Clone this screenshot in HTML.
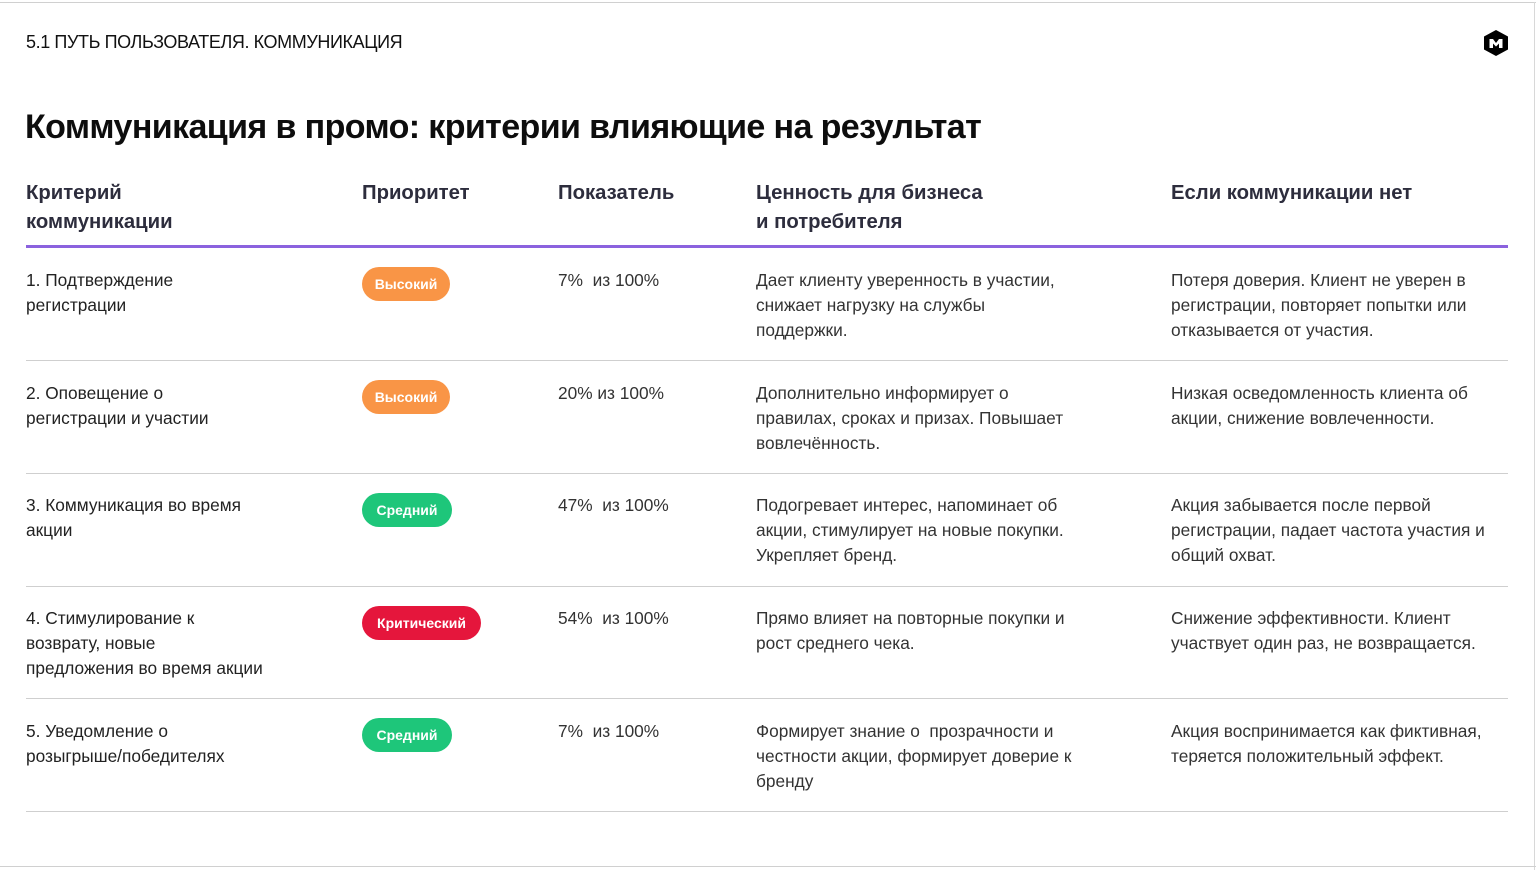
<!DOCTYPE html>
<html><head><meta charset="utf-8"><style>
body{margin:0;width:1536px;height:870px;background:#fff;position:relative;overflow:hidden;font-family:"Liberation Sans","DejaVu Sans",sans-serif;color:#2f2f3a}
.a{position:absolute}
.top{left:0;top:2px;width:1536px;height:1px;background:#d0d0d0}
.rb{left:1534px;top:2px;width:1px;height:868px;background:#d8d8d8}
.bot{left:0;top:866px;width:1536px;height:1px;background:#d0d0d0}
.sec{left:26px;top:32px;font-size:18px;letter-spacing:-0.4px;color:#111}
h1{position:absolute;left:25px;top:108px;margin:0;font-size:34px;font-weight:bold;letter-spacing:-0.6px;color:#0d0d0d}
.h{font-size:20.3px;font-weight:bold;line-height:29px;color:#2d2d3d;top:179px}
.pl{left:26px;top:245px;width:1482px;height:3px;background:#8b62de}
.ln{left:26px;width:1482px;height:1px;background:#cfcfcf}
.t{font-size:17.3px;line-height:25px;color:#333}
.c1{color:#222}
.b{height:34px;line-height:34px;border-radius:17px;color:#fff;font-weight:bold;font-size:14px;text-align:center}
.o{background:#f99546;width:88px}.g{background:#1ec67a;width:90px}.r{background:#e5163c;width:119px}
</style></head><body>
<div class="a top"></div><div class="a rb"></div><div class="a bot"></div>
<div class="a sec">5.1 ПУТЬ ПОЛЬЗОВАТЕЛЯ. КОММУНИКАЦИЯ</div>
<svg class="a" style="left:1482px;top:29px" width="28" height="28" viewBox="0 0 28 28"><polygon points="14,1 26,7.5 26,20.5 14,27 2,20.5 2,7.5" fill="#000"/><path d="M7.5 19V10h3.5l3 4 3-4h3.5v9h-3.5v-4.5l-3 3-3-3V19z" fill="#fff"/></svg>
<h1>Коммуникация в промо: критерии влияющие на результат</h1>
<div class="a h" style="left:26px">Критерий<br>коммуникации</div>
<div class="a h" style="left:362px">Приоритет</div>
<div class="a h" style="left:558px">Показатель</div>
<div class="a h" style="left:756px">Ценность для бизнеса<br>и потребителя</div>
<div class="a h" style="left:1171px">Если коммуникации нет</div>
<div class="a pl"></div>

<div class="a t c1" style="left:26px;top:268px">1. Подтверждение<br>регистрации</div>
<div class="a b o" style="left:362px;top:267px">Высокий</div>
<div class="a t" style="left:558px;top:268px">7%&nbsp; из 100%</div>
<div class="a t" style="left:756px;top:268px">Дает клиенту уверенность в участии,<br>снижает нагрузку на службы<br>поддержки.</div>
<div class="a t" style="left:1171px;top:268px">Потеря доверия. Клиент не уверен в<br>регистрации, повторяет попытки или<br>отказывается от участия.</div>
<div class="a ln" style="top:360px"></div>

<div class="a t c1" style="left:26px;top:381px">2. Оповещение о<br>регистрации и участии</div>
<div class="a b o" style="left:362px;top:380px">Высокий</div>
<div class="a t" style="left:558px;top:381px">20% из 100%</div>
<div class="a t" style="left:756px;top:381px">Дополнительно информирует о<br>правилах, сроках и призах. Повышает<br>вовлечённость.</div>
<div class="a t" style="left:1171px;top:381px">Низкая осведомленность клиента об<br>акции, снижение вовлеченности.</div>
<div class="a ln" style="top:473px"></div>

<div class="a t c1" style="left:26px;top:493px">3. Коммуникация во время<br>акции</div>
<div class="a b g" style="left:362px;top:493px">Средний</div>
<div class="a t" style="left:558px;top:493px">47%&nbsp; из 100%</div>
<div class="a t" style="left:756px;top:493px">Подогревает интерес, напоминает об<br>акции, стимулирует на новые покупки.<br>Укрепляет бренд.</div>
<div class="a t" style="left:1171px;top:493px">Акция забывается после первой<br>регистрации, падает частота участия и<br>общий охват.</div>
<div class="a ln" style="top:586px"></div>

<div class="a t c1" style="left:26px;top:606px">4. Стимулирование к<br>возврату, новые<br>предложения во время акции</div>
<div class="a b r" style="left:362px;top:606px">Критический</div>
<div class="a t" style="left:558px;top:606px">54%&nbsp; из 100%</div>
<div class="a t" style="left:756px;top:606px">Прямо влияет на повторные покупки и<br>рост среднего чека.</div>
<div class="a t" style="left:1171px;top:606px">Снижение эффективности. Клиент<br>участвует один раз, не возвращается.</div>
<div class="a ln" style="top:698px"></div>

<div class="a t c1" style="left:26px;top:719px">5. Уведомление о<br>розыгрыше/победителях</div>
<div class="a b g" style="left:362px;top:718px">Средний</div>
<div class="a t" style="left:558px;top:719px">7%&nbsp; из 100%</div>
<div class="a t" style="left:756px;top:719px">Формирует знание о&nbsp; прозрачности и<br>честности акции, формирует доверие к<br>бренду</div>
<div class="a t" style="left:1171px;top:719px">Акция воспринимается как фиктивная,<br>теряется положительный эффект.</div>
<div class="a ln" style="top:811px"></div>
</body></html>
